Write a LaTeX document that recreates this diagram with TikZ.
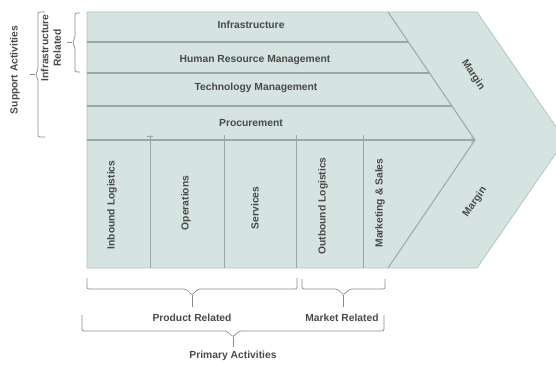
\documentclass[tikz,border=0pt]{standalone}
\usepackage{fontspec}
\setmainfont{Liberation Sans}
\definecolor{bandfill}{HTML}{D5E3E1}
\definecolor{bandline}{HTML}{97A9A6}
\definecolor{edgeline}{HTML}{B4C4C1}
\definecolor{txt}{HTML}{4A4A4A}
\definecolor{bracecol}{HTML}{8A8A8A}
% horizontal bracket, tip down: x1, x2, base y, middle y, tip y
\newcommand{\hbrk}[5]{%
  \pgfmathsetmacro\hbc{(#1+#2)/2}%
  \draw[brk] (#1,#3) -- (#1,#4) -- (\hbc-6,#4) -- (\hbc,#4+6) -- (\hbc+6,#4) -- (#2,#4) -- (#2,#3);
  \draw[brk] (\hbc,#4+6) -- (\hbc,#5);}
% vertical bracket, tip left: y1, y2, base x, middle x, tip x
\newcommand{\vbrk}[5]{%
  \pgfmathsetmacro\vbc{(#1+#2)/2}%
  \draw[brk] (#3,#1) -- (#4,#1) -- (#4,\vbc-4) -- (#4-3,\vbc) -- (#4,\vbc+4) -- (#4,#2) -- (#3,#2);
  \draw[brk] (#4-3,\vbc) -- (#5,\vbc);}
\begin{document}
\begin{tikzpicture}[x=1pt,y=-1pt,
  lbl/.style={font=\fontsize{10.3}{12.5}\selectfont\bfseries, text=txt, inner sep=0pt},
  vlbl/.style={lbl, rotate=90},
  divider/.style={draw=bandline, line width=1pt},
  brk/.style={draw=bracecol, line width=0.7pt, rounded corners=2pt},
]
\useasboundingbox (0,0) rectangle (556,366);
\clip (0,0) rectangle (556,366);
% outline
\coordinate (TL) at (87,12);
\coordinate (TR) at (477,12);
\coordinate (Tip) at (565,140);
\coordinate (BR) at (477,268);
\coordinate (BL) at (87,268);
\coordinate (IT) at (388,12);
\coordinate (IM) at (475,140);
\coordinate (IB) at (388,268);
\fill[bandfill] (TL) -- (TR) -- (Tip) -- (BR) -- (BL) -- cycle;
\draw[edgeline, line width=0.8pt] (TL) -- (TR) -- (Tip) -- (BR) -- (BL) -- cycle;
\draw[divider] (IT) -- (IM) -- (IB);
% band separators
\coordinate (h1a) at (87,42);  \coordinate (h1b) at (408.4,42);
\coordinate (h2a) at (87,73);  \coordinate (h2b) at (429.5,73);
\coordinate (h3a) at (87,106); \coordinate (h3b) at (451.9,106);
\coordinate (h4a) at (87,140); \coordinate (h4b) at (IM);
\draw[divider, line width=1.4pt] (h1a) -- (h1b);
\draw[divider, line width=1.4pt] (h2a) -- (h2b);
\draw[divider, line width=1.4pt] (h3a) -- (h3b);
\draw[divider, line width=1.4pt] (h4a) -- (h4b);
% column dividers
\foreach \xx in {150,224,296,363}{
  \coordinate (ct\xx) at (\xx,135);
  \coordinate (cb\xx) at (\xx,268);
  \draw[divider, line width=0.8pt] (ct\xx) -- (cb\xx);
}
\draw[bandline, line width=0.6pt] (147,136) -- (153,136);
\draw[bandline, line width=0.6pt] (471,137) -- (475,140) -- (471,143);
% band labels
\node[lbl] (inf) at (251,25) {Infrastructure};
\node[lbl] (hrm) at (255,60) {Human Resource Management};
\node[lbl] (tech) at (256,88) {Technology Management};
\node[lbl] (proc) at (251,123) {Procurement};
% primary labels
\node[vlbl] (inb) at (112,205) {Inbound Logistics};
\node[vlbl] (ops) at (186,203) {Operations};
\node[vlbl] (svc) at (255,208) {Services};
\node[vlbl] (outb) at (323,206) {Outbound Logistics};
\node[vlbl] (mkt) at (380,203) {Marketing \& Sales};
% margins
\node[lbl, rotate=-57] (m1) at (473,75) {Margin};
\node[lbl, rotate=55] (m2) at (475,202) {Margin};
% left brackets
\vbrk{13}{72}{80}{75}{67}
\vbrk{12}{137}{45}{38}{30}
\node[vlbl, align=center] (infrel) at (51,48) {Infrastructure\\Related};
\node[vlbl] (supp) at (15,70) {Support Activities};
% bottom brackets
\hbrk{87}{297}{278}{289}{307}
\hbrk{302}{385}{279}{289}{307}
\hbrk{82}{384}{315}{331}{347}
\node[lbl] (prodrel) at (192,318) {Product Related};
\node[lbl] (markrel) at (342,318) {Market Related};
\node[lbl] (primact) at (233,356) {Primary Activities};
\end{tikzpicture}
\end{document}
